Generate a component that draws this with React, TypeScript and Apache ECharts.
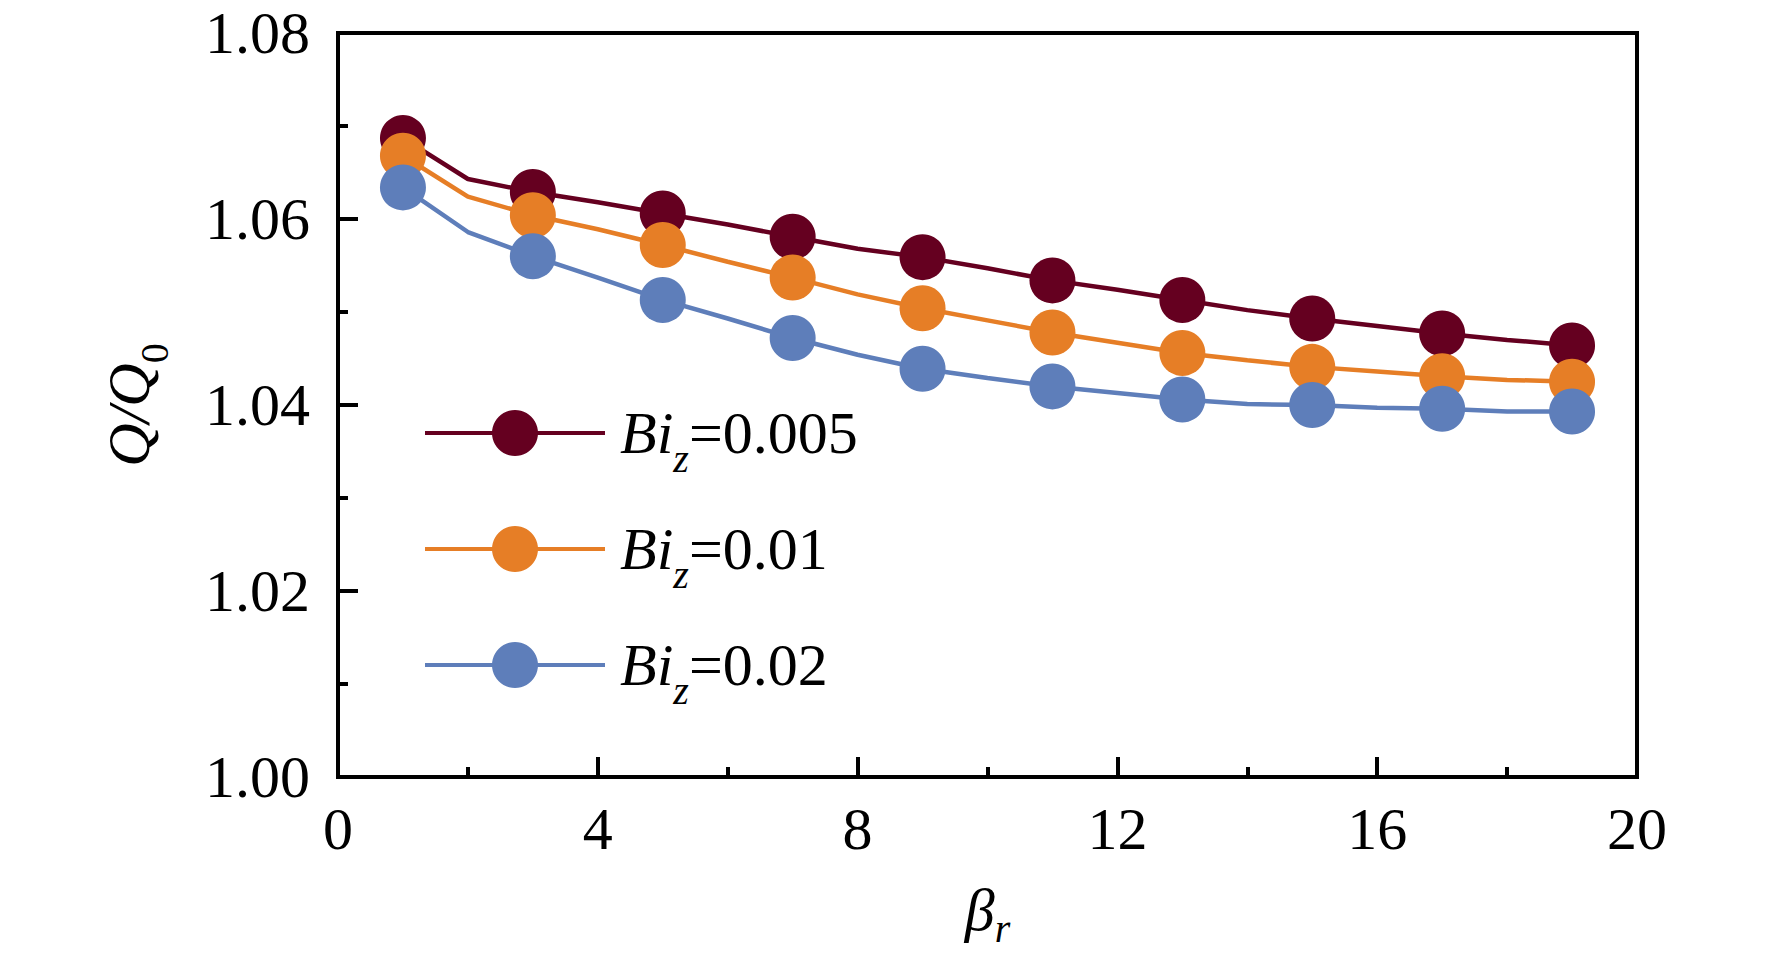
import React, { useEffect, useRef } from "react";
import * as echarts from "echarts";

const BETA = [1, 2, 3, 4, 5, 6, 7, 8, 9, 10, 11, 12, 13, 14, 15, 16, 17, 18, 19];
const BI_005 = [1.0687, 1.0643, 1.0629, 1.0618, 1.0606, 1.0594, 1.0581, 1.0568, 1.0559, 1.0547, 1.0534, 1.0524, 1.0513, 1.0502, 1.0493, 1.0485, 1.0477, 1.047, 1.0464];
const BI_01 = [1.0668, 1.0624, 1.0604, 1.0589, 1.0572, 1.0554, 1.0537, 1.0519, 1.0504, 1.0491, 1.0478, 1.0467, 1.0456, 1.0448, 1.0441, 1.0436, 1.0431, 1.0427, 1.0425];
const BI_02 = [1.0634, 1.0586, 1.056, 1.0537, 1.0513, 1.0493, 1.0472, 1.0454, 1.0439, 1.0429, 1.042, 1.0413, 1.0406, 1.0401, 1.04, 1.0397, 1.0396, 1.0393, 1.0393];
const SERIES_NAMES = ["0.005", "0.01", "0.02"];
const X_TICKS = [0, 4, 8, 12, 16, 20];
const Y_TICKS = [1.0, 1.02, 1.04, 1.06, 1.08];

const COLORS = ["#650020", "#E67E26", "#5E7EBA"];
const FONT = "'Liberation Serif', 'Times New Roman', Times, serif";

export default function App() {
  const ref = useRef<HTMLDivElement>(null);
  useEffect(() => {
    document.body.style.margin = "0";
    document.body.style.overflow = "hidden";
    const chart = echarts.init(ref.current!, null, { renderer: "svg" });
    const values = [BI_005, BI_01, BI_02];
    const option = {
      animation: false,
      backgroundColor: "#ffffff",
      grid: {
        left: 338,
        right: 135,
        top: 33,
        bottom: 186,
        show: true,
        borderColor: "#000",
        borderWidth: 4,
        containLabel: false,
      },
      legend: {
        orient: "vertical",
        left: 423,
        top: 403,
        padding: 0,
        itemWidth: 180,
        itemHeight: 57.5,
        itemGap: 41,
        data: SERIES_NAMES,
        lineStyle: { width: 4 },
        formatter: (name: string) => `{a|Bi}{b|z}{c|=${name}}`,
        textStyle: {
          color: "#000",
          fontFamily: FONT,
          fontSize: 60,
          rich: {
            a: { fontFamily: FONT, fontSize: 60, fontStyle: "italic", lineHeight: 90, verticalAlign: "middle", padding: [0, 0, 0, 10], color: "#000" },
            b: { fontFamily: FONT, fontSize: 40, fontStyle: "italic", lineHeight: 16, verticalAlign: "bottom", color: "#000" },
            c: { fontFamily: FONT, fontSize: 60, lineHeight: 90, verticalAlign: "middle", color: "#000" },
          },
        },
      },
      xAxis: {
        type: "value",
        min: 0,
        max: 20,
        interval: 4,
        name: "{a|β}{b|r}",
        nameLocation: "middle",
        nameGap: 95,
        nameTextStyle: {
          rich: {
            a: { fontFamily: FONT, fontSize: 60, fontStyle: "italic", lineHeight: 76, verticalAlign: "middle", color: "#000" },
            b: { fontFamily: FONT, fontSize: 40, fontStyle: "italic", lineHeight: 20, verticalAlign: "bottom", color: "#000" },
          },
        },
        axisLine: { show: true, lineStyle: { color: "#000", width: 4 } },
        axisTick: { show: true, inside: true, length: 20, lineStyle: { color: "#000", width: 4 } },
        minorTick: { show: true, splitNumber: 2, length: 10, lineStyle: { color: "#000", width: 4 } },
        splitLine: { show: false },
        axisLabel: {
          margin: 22,
          color: "#000",
          fontFamily: FONT,
          fontSize: 60,
          formatter: (v: number) => (X_TICKS.includes(v) ? String(v) : ""),
        },
      },
      yAxis: {
        type: "value",
        min: 1.0,
        max: 1.08,
        interval: 0.02,
        name: "{a|Q/Q}{b|0}",
        nameLocation: "middle",
        nameGap: 164,
        nameTextStyle: {
          rich: {
            a: { fontFamily: FONT, fontSize: 60, fontStyle: "italic", lineHeight: 90, verticalAlign: "middle", color: "#000" },
            b: { fontFamily: FONT, fontSize: 40, lineHeight: 20, verticalAlign: "bottom", color: "#000" },
          },
        },
        axisLine: { show: true, lineStyle: { color: "#000", width: 4 } },
        axisTick: { show: true, inside: true, length: 20, lineStyle: { color: "#000", width: 4 } },
        minorTick: { show: true, splitNumber: 2, length: 10, lineStyle: { color: "#000", width: 4 } },
        splitLine: { show: false },
        axisLabel: {
          margin: 28,
          color: "#000",
          fontFamily: FONT,
          fontSize: 60,
          formatter: (v: number) => {
            const s = v.toFixed(2);
            return Y_TICKS.some((t) => t.toFixed(2) === s) ? s : "";
          },
        },
      },
      series: SERIES_NAMES.map((name, si) => ({
        name,
        type: "line",
        symbol: "circle",
        symbolSize: 46,
        showAllSymbol: true,
        itemStyle: { color: COLORS[si] },
        lineStyle: { color: COLORS[si], width: 4.5 },
        emphasis: { disabled: true },
        data: BETA.map((x, i) => ({
          value: [x, values[si][i]],
          symbol: x % 2 === 1 ? "circle" : "none",
        })),
      })),
    };
    chart.setOption(option as any);
    return () => chart.dispose();
  }, []);
  return <div ref={ref} style={{ width: 1772, height: 963 }} />;
}
